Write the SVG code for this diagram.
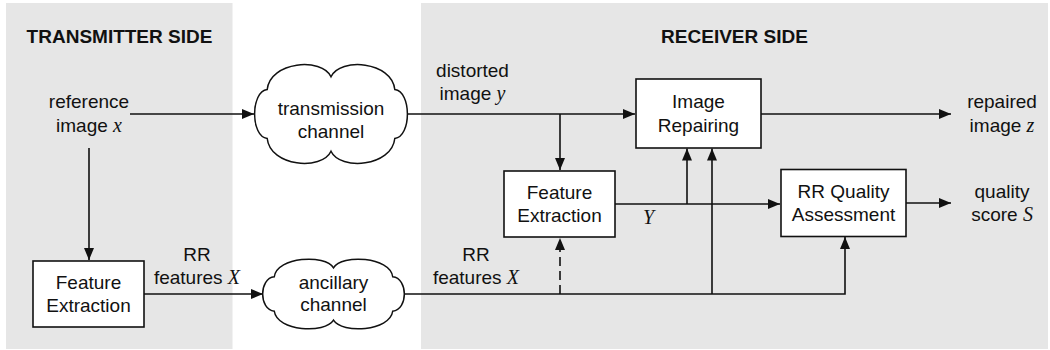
<svg xmlns="http://www.w3.org/2000/svg" width="1050" height="350" viewBox="0 0 1050 350">
<defs>
<marker id="arr" markerUnits="userSpaceOnUse" markerWidth="12" markerHeight="10" refX="12" refY="5" orient="auto">
<path d="M0,0 L12,5 L0,10 Z" fill="#111"/>
</marker>
<style>
.panel{fill:#e6e6e6;stroke:none}
.box{fill:#fff;stroke:#111;stroke-width:1.6}
.cloud{fill:#fff;stroke:#111;stroke-width:1.5}
.t{font-family:"Liberation Sans",Arial,sans-serif;font-size:19px;fill:#111;text-anchor:middle}
.title{font-family:"Liberation Sans",Arial,sans-serif;font-size:19px;font-weight:bold;fill:#111;text-anchor:middle}
.v{font-family:"Liberation Serif","Times New Roman",serif;font-style:italic;font-size:20px}
.c{fill:none;stroke:#111;stroke-width:1.6}
.a{marker-end:url(#arr)}
.d{stroke-dasharray:9,5}
</style>
</defs>
<g id="panels">
<rect class="panel" x="6" y="3" width="226.5" height="346"/>
<rect class="panel" x="421" y="3" width="627" height="346"/>
<text class="title" x="119.5" y="43">TRANSMITTER SIDE</text>
<text class="title" x="734.5" y="43">RECEIVER SIDE</text>
</g>
<g id="connectors">
<path class="c a" d="M130,114 H254"/>
<path class="c a" d="M89,148 V260"/>
<path class="c a" d="M144,294 H263"/>
<path class="c a" d="M407,114 H635"/>
<path class="c a" d="M560,114 V170"/>
<path class="c a" d="M615,204 H780"/>
<path class="c a" d="M687,204 V148.5"/>
<path class="c a" d="M404,294 H845 V237"/>
<path class="c a" d="M712,294 V148.5"/>
<path class="c a d" d="M560,294 V238"/>
<path class="c a" d="M761,114 H951"/>
<path class="c a" d="M906,203 H951"/>
</g>
<g id="label-reference">
<text class="t" x="89" y="107.5">reference</text>
<text class="t" x="89" y="131.5">image <tspan class="v">x</tspan></text>
</g>
<g id="transmission-channel">
<path class="cloud" d="M267.2,89.5 C270.2,61.1 321.9,57.2 331,76.8 C340.1,57.2 391.8,61.1 394.8,89.5 C411.6,91.5 411.6,136.5 394.8,138.5 C391.8,166.9 340.1,170.8 331,151.2 C321.9,170.8 270.2,166.9 267.2,138.5 C250.4,136.5 250.4,91.5 267.2,89.5 Z"/>
<text class="t" x="331" y="114.5">transmission</text>
<text class="t" x="331" y="137.5">channel</text>
</g>
<g id="feature-extraction-tx">
<rect class="box" x="33" y="261" width="111" height="66"/>
<text class="t" x="88.5" y="288.5">Feature</text>
<text class="t" x="88.5" y="312">Extraction</text>
</g>
<g id="label-rr-features-tx">
<text class="t" x="197" y="260.5">RR</text>
<text class="t" x="197" y="284">features <tspan class="v">X</tspan></text>
</g>
<g id="ancillary-channel">
<path class="cloud" d="M274.3,276.75 C277.1,256.7 325,254 333.5,267.8 C342,254 389.9,256.7 392.7,276.75 C408.2,278.1 408.2,309.9 392.7,311.25 C389.9,331.3 342,334 333.5,320.2 C325,334 277.1,331.3 274.3,311.25 C258.8,309.9 258.8,278.1 274.3,276.75 Z"/>
<text class="t" x="333.5" y="288.5">ancillary</text>
<text class="t" x="333.5" y="311">channel</text>
</g>
<g id="label-distorted">
<text class="t" x="472.5" y="76.5">distorted</text>
<text class="t" x="472.5" y="100">image <tspan class="v">y</tspan></text>
</g>
<g id="image-repairing">
<rect class="box" x="636" y="79" width="125" height="69"/>
<text class="t" x="698.5" y="108">Image</text>
<text class="t" x="698.5" y="131.5">Repairing</text>
</g>
<g id="feature-extraction-rx">
<rect class="box" x="504" y="171" width="111" height="66"/>
<text class="t" x="559.5" y="198.5">Feature</text>
<text class="t" x="559.5" y="222">Extraction</text>
</g>
<g id="label-Y">
<text class="t v" x="648.5" y="224">Y</text>
</g>
<g id="label-rr-features-rx">
<text class="t" x="476" y="260.5">RR</text>
<text class="t" x="476" y="284">features <tspan class="v">X</tspan></text>
</g>
<g id="rr-quality-assessment">
<rect class="box" x="781" y="169.5" width="125" height="67"/>
<text class="t" x="843.5" y="197.5">RR Quality</text>
<text class="t" x="843.5" y="221">Assessment</text>
</g>
<g id="label-repaired">
<text class="t" x="1002" y="108">repaired</text>
<text class="t" x="1002" y="131.5">image <tspan class="v">z</tspan></text>
</g>
<g id="label-quality">
<text class="t" x="1002" y="197.5">quality</text>
<text class="t" x="1002" y="221">score <tspan class="v">S</tspan></text>
</g>
</svg>
